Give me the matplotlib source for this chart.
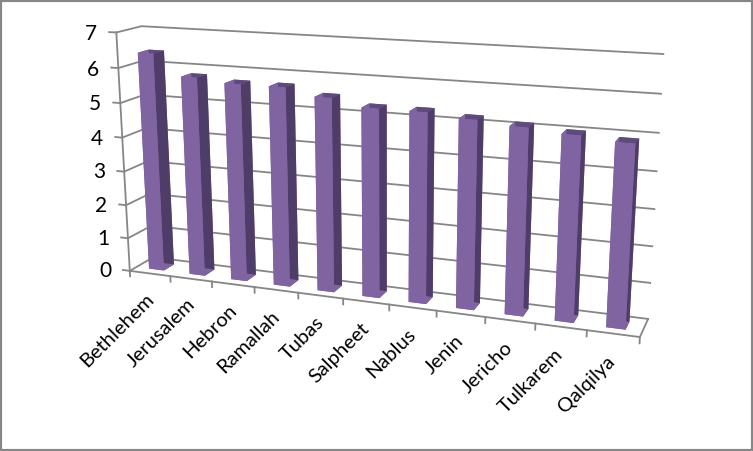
import numpy as np
import matplotlib
matplotlib.use('Agg')
import matplotlib.pyplot as plt
from matplotlib.patches import Rectangle

cities = ['Bethlehem', 'Jerusalem', 'Hebron', 'Ramallah', 'Tubas', 'Salpheet',
          'Nablus', 'Jenin', 'Jericho', 'Tulkarem', 'Qalqilya']
values = [6.4, 5.8, 5.7, 5.7, 5.5, 5.3, 5.3, 5.2, 5.1, 5.0, 4.9]
y_ticks = [0, 1, 2, 3, 4, 5, 6, 7]

W, H = 753, 451
GRID = '#868686'

# camera: box corners (category, depth, value) and where they land in the image
world = [(0, 0, 0), (0, 0, 7), (11, 0, 0), (0, 1, 0), (0, 1, 7), (11, 1, 0), (11, 1, 7)]
image = [(130, 270.7), (116, 32.7), (640, 337), (153, 257.4), (141.7, 26), (648, 319), (663.3, 54)]
rows = []
for (x, y, z), (u, v) in zip(world, image):
    X = [x, y, z, 1]
    rows.append(X + [0, 0, 0, 0] + [-u * c for c in X])
    rows.append([0, 0, 0, 0] + X + [-v * c for c in X])
cam = np.linalg.svd(np.array(rows, dtype=float))[2][-1].reshape(3, 4)
cam = cam / cam[2, 3]

fig = plt.figure(figsize=(W / 100, H / 100), dpi=100)
fig.patches.append(Rectangle((0, 0), 1, 1, transform=fig.transFigure, fill=False,
                             edgecolor=GRID, linewidth=3))
ax = fig.add_axes([0, 0, 1, 1], projection='3d', computed_zorder=False)
ax.set_axis_off()
ax.patch.set_visible(False)
ax.set_proj_type('ortho')  # stops Line3D clipping, get_proj below does the real work


def get_proj():
    # image pixels -> axes 2D coords, y flipped
    flip = np.array([[1, 0, 0], [0, -1, H], [0, 0, 1]], dtype=float)
    to_axes = ax.transData.inverted().get_matrix() @ flip
    p = to_axes @ cam
    return np.array([p[0], p[1], [0, 0.5, 0, 0], p[2]])


ax.get_proj = get_proj


def line(xs, ys, zs):
    ax.plot(xs, ys, zs, color=GRID, linewidth=1.3, clip_on=False, zorder=1)


def label(x, y, z, s, **kw):
    h = cam @ np.array([x, y, z, 1.0])
    fig.text(h[0] / h[2] / W, 1 - h[1] / h[2] / H, s, family='Lato', color='black', **kw)


n = len(cities)
for v in y_ticks:
    line([0, 0, n], [0, 1, 1], [v, v, v])
    line([-0.17, 0], [0, 0], [v, v])
    label(-0.47, 0, v - 0.08, str(v), ha='right', va='center', fontsize=15)
line([0, 0], [0, 0], [0, 7])
line([0, n, n], [0, 0, 1], [0, 0, 0])
for i in range(n + 1):
    line([i, i], [0, 0], [0, -0.17])

colors = []
for i in range(n):
    # bottom, top, front, back, left, right
    colors += ['#8064A2', '#5F4A7E', '#8064A2', '#8064A2', '#8064A2', '#4F3D69']
x = np.arange(n) + 0.5 - 0.185
bars = ax.bar3d(x, [0.28] * n, [0] * n, 0.37, 0.44, values, color=colors, shade=False,
                zorder=2, clip_on=False)

for i, name in enumerate(cities):
    label(i + 0.5, 0, -0.7, name, ha='right', va='center', rotation=45,
          rotation_mode='anchor', fontsize=14.5)

fig.savefig('out.png', dpi=100)
